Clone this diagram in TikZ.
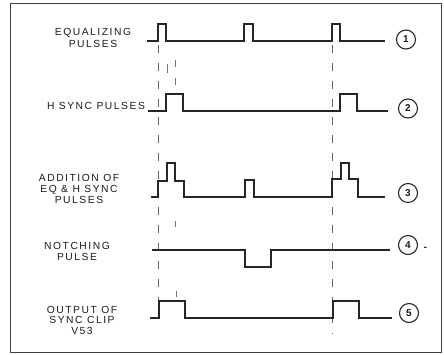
\documentclass[tikz,border=0pt]{standalone}
\usepackage{fontspec}
\newfontfamily\lab[LetterSpace=15]{Liberation Sans}
\newfontfamily\num{Liberation Sans}
\begin{document}
\begin{tikzpicture}[x=1pt,y=-1pt,
  wave/.style={line width=1.1pt, draw=black!85, line join=miter},
  guide/.style={line width=0.8pt, draw=black!60, dash pattern=on 8pt off 10pt},
  tick/.style={line width=0.8pt, draw=black!55},
  lbl/.style={font=\lab\fontsize{10.3}{11.5}\selectfont, align=center, text=black!90, inner sep=0pt},
  tag/.style={circle, draw=black!85, line width=1.1pt, minimum size=19pt, inner sep=0pt, text=black!90, font=\num\bfseries\fontsize{10}{10}\selectfont},
  frame/.style={line width=1.2pt, draw=black!75}]
\useasboundingbox (0,0) rectangle (444,354);
\draw[frame] (10.5,3.5) rectangle (441.5,352.5);

% labels
\node[lbl] (l1) at (93,38) {EQUALIZING\\PULSES};
\node[lbl] (l2) at (96,106) {H SYNC PULSES};
\node[lbl, font=\lab\fontsize{10.3}{11}\selectfont] (l3) at (79,188.5) {ADDITION OF\\EQ \& H SYNC\\PULSES};
\node[lbl, font=\lab\fontsize{10.3}{11}\selectfont] (l4) at (77,251) {NOTCHING\\PULSE};
\node[lbl, font=\lab\fontsize{10.3}{10.5}\selectfont] (l5) at (82,320) {OUTPUT OF\\SYNC CLIP\\V53};

% guide lines
\draw[guide] (158,45) -- (158,300);
\draw[guide] (332,45) -- (332,334);
\draw[tick] (167,64) -- (167,73);
\draw[tick] (175,60) -- (175,67);
\draw[tick] (175,78) -- (175,85);
\draw[tick] (175.5,221) -- (175.5,227);
\draw[tick] (176,291) -- (176,297);

% waveform 1
\draw[wave] (147,41) -- (158,41) -- (158,24) -- (166,24) -- (166,41)
  -- (244,41) -- (244,24) -- (253,24) -- (253,41)
  -- (332,41) -- (332,24) -- (340,24) -- (340,41) -- (385,41);
% waveform 2
\draw[wave] (148,111) -- (166,111) -- (166,94) -- (183,94) -- (183,111)
  -- (340,111) -- (340,94) -- (357,94) -- (357,111) -- (388,111);
% waveform 3
\draw[wave] (151,197) -- (158,197) -- (158,181) -- (167,181) -- (167,163)
  -- (175,163) -- (175,181) -- (184,181) -- (184,197)
  -- (245,197) -- (245,180) -- (254,180) -- (254,197)
  -- (332,197) -- (332,179) -- (341,179) -- (341,163) -- (349,163)
  -- (349,179) -- (358,179) -- (358,197) -- (385,197);
% waveform 4
\draw[wave] (152,250) -- (245,250) -- (245,267) -- (271,267) -- (271,250) -- (390,250);
% waveform 5
\draw[wave] (150,318) -- (159,318) -- (159,301) -- (185,301) -- (185,318)
  -- (333,318) -- (333,301) -- (359,301) -- (359,318) -- (392,318);

% tags
\node[tag] (t1) at (406,39.5) {1};
\node[tag] (t2) at (408,108.5) {2};
\node[tag] (t3) at (408,193) {3};
\node[tag] (t4) at (408,245) {4};
\node[tag] (t5) at (409,313) {5};
\node[inner sep=0pt, font=\num\bfseries\fontsize{10}{10}\selectfont, text=black!85] (m4) at (425.5,248.5) {-};
\end{tikzpicture}
\end{document}
